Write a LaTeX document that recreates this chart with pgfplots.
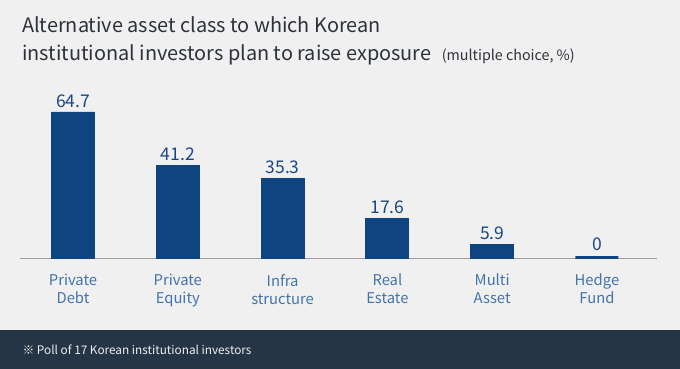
\documentclass[border=0pt]{standalone}
\usepackage{pgfplots}
\pgfplotsset{compat=1.18}
\usepackage{pgfplotstable}
\usepackage{fontspec}
\setmainfont{Noto Sans CJK KR}
\definecolor{bg}{RGB}{240,240,240}
\definecolor{footer}{RGB}{38,53,69}
\definecolor{barc}{RGB}{14,69,128}
\definecolor{lab}{RGB}{66,116,172}
\definecolor{valc}{RGB}{26,72,130}
\definecolor{titc}{RGB}{45,50,58}
\pgfplotstableread{
x y lab
0 64.7 64.7
1 41.2 41.2
2 35.3 35.3
3 17.6 17.6
4 5.9 5.9
}\datatab
\pgfplotstableread{
x y lab
5 0 0
}\zerotab
\begin{document}
\begin{tikzpicture}[x=1pt,y=1pt]
\useasboundingbox (0,0) rectangle (680,369);
\fill[bg] (0,0) rectangle (680,369);
\fill[footer] (0,0) rectangle (680,39);
\node[anchor=west,text=white!92!footer,font=\fontsize{11.8}{14}\selectfont] at (19,19.5) {※ Poll of 17 Korean institutional investors};
\node[anchor=base west,text=titc,font=\fontsize{19.9}{24}\selectfont,inner sep=0pt] at (22,336) {Alternative asset class to which Korean};
\node[anchor=base west,text=titc,font=\fontsize{19.9}{24}\selectfont,inner sep=0pt] (t2) at (22,308) {institutional investors plan to raise exposure};
\node[anchor=base west,text=titc,font=\fontsize{14.3}{16}\selectfont,inner sep=0pt] at ([xshift=10pt]t2.base east) {(multiple choice, \%)};
\begin{axis}[
  at={(20pt,111pt)}, anchor=south west,
  scale only axis, width=637pt, height=160pt,
  xmin=-0.506, xmax=5.573, ymin=0, ymax=70.9,
  axis x line*=bottom, hide y axis,
  x axis line style={draw=gray!75, line width=0.9pt, -},
  xtick={0,1,2,3,4,5}, major tick length=0pt,
  xticklabels={{Private\\Debt},{Private\\Equity},{Infra\\structure},{Real\\Estate},{Multi\\Asset},{Hedge\\Fund}},
  xticklabel style={align=center, text=lab, font=\fontsize{14.8}{18}\selectfont, yshift=-12.5pt},
  clip=false, ybar, bar width=43pt,
]
\addplot[ybar, bar shift=0pt, fill=barc, draw=barc, line width=0.8pt,
  point meta=explicit symbolic,
  nodes near coords, every node near coord/.append style={text=valc, font=\fontsize{17.5}{20}\selectfont, yshift=1pt}]
  table[x=x,y=y,meta=lab] {\datatab};
\addplot[ybar, bar shift=0pt, fill=barc, draw=barc, line width=3pt,
  point meta=explicit symbolic,
  nodes near coords, every node near coord/.append style={text=valc, font=\fontsize{17.5}{20}\selectfont, yshift=2pt}]
  table[x=x,y=y,meta=lab] {\zerotab};
\end{axis}
\end{tikzpicture}
\end{document}
